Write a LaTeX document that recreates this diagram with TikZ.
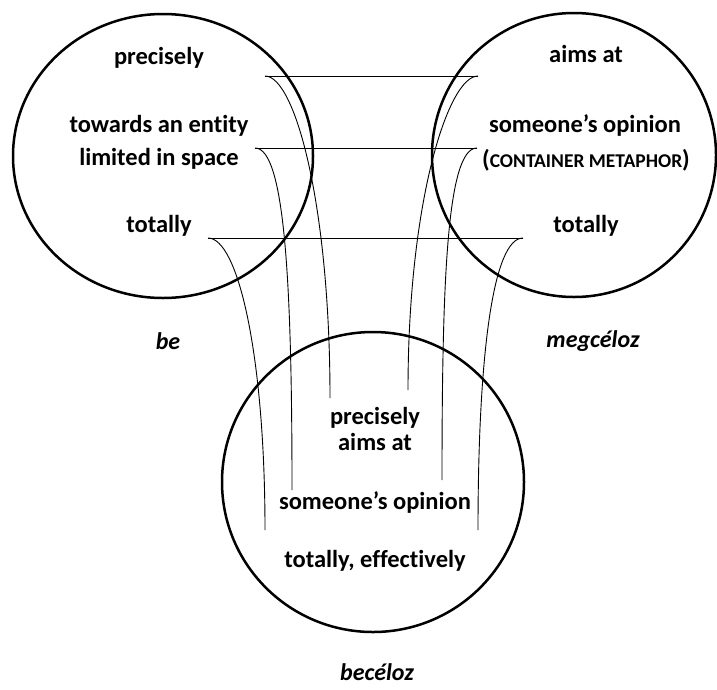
\documentclass[tikz,border=0pt]{standalone}
\usepackage{fontspec}
\setmainfont{Carlito}[Ligatures=NoCommon]
\begin{document}
\begin{tikzpicture}[x=1pt,y=-1pt,
  lbl/.style={font=\fontsize{24.5}{28}\selectfont\bfseries, anchor=base, inner sep=0pt},
  ital/.style={font=\fontsize{24}{28}\selectfont\bfseries\itshape, anchor=base, inner sep=0pt},
  ring/.style={draw=black, line width=2.5pt},
  link/.style={draw=black, line width=0.9pt}]
\useasboundingbox (0,0) rectangle (717,689);
% circles
\draw[ring] (163,156) ellipse [x radius=150, y radius=142];
\draw[ring] (574,155) ellipse [x radius=142, y radius=142];
\draw[ring] (373,482) ellipse [x radius=151, y radius=150];
% texts left
\node[lbl] (lprec) at (159,64) {precisely};
\node[lbl] (ltow) at (159,132) {towards an entity};
\node[lbl] (llim) at (159,165) {limited in space};
\node[lbl] (ltot) at (159,232) {totally};
% texts right
\node[lbl] (raims) at (586,62) {aims at};
\node[lbl] (rsom) at (585,132) {someone’s opinion};
\node[lbl] (rcont) at (586,167) {(\fontsize{19.5}{22}\selectfont CONTAINER METAPHOR\fontsize{24.5}{28}\selectfont)};
\node[lbl] (rtot) at (586,232) {totally};
% texts bottom
\node[lbl] (bprec) at (375,424) {precisely};
\node[lbl] (baims) at (375,450) {aims at};
\node[lbl] (bsom) at (375,509) {someone’s opinion};
\node[lbl] (btot) at (375,567) {totally, effectively};
% names
\node[ital] (nbe) at (168,349) {be};
\node[ital] (nmeg) at (593,347) {megcéloz};
\node[ital] (nbec) at (377,680) {becéloz};
% connector points
\coordinate (a1) at (265,76);
\coordinate (b1) at (478,76);
\coordinate (a2) at (255,148);
\coordinate (b2) at (477,148);
\coordinate (a3) at (208,238);
\coordinate (b3) at (523,238);
\coordinate (ea1) at (330,398);
\coordinate (eb1) at (408,390);
\coordinate (ea2) at (292,490);
\coordinate (eb2) at (442,480);
\coordinate (ea3) at (265,530);
\coordinate (eb3) at (478,530);
% horizontal links
\draw[link] (a1) -- (b1);
\draw[link] (a2) -- (b2);
\draw[link] (a3) -- (b3);
% hooks
\draw[link] (a1) .. controls (295,76) and (330,205) .. (ea1);
\draw[link] (b1) .. controls (448,76) and (408,202) .. (eb1);
\draw[link] (a2) .. controls (285,148) and (292,285) .. (ea2);
\draw[link] (b2) .. controls (447,148) and (442,280) .. (eb2);
\draw[link] (a3) .. controls (238,238) and (265,355) .. (ea3);
\draw[link] (b3) .. controls (493,238) and (478,355) .. (eb3);
\end{tikzpicture}
\end{document}
